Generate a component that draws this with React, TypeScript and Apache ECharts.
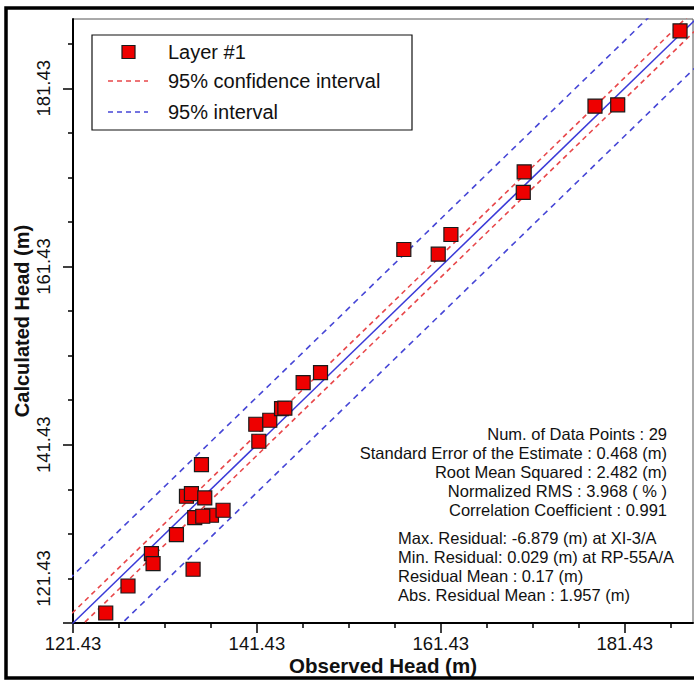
import React, { useEffect, useRef } from "react";
import * as echarts from "echarts";

// ---- data ----
const observedHead = [
  124.99, 127.41, 129.96, 130.14, 132.68, 134.49, 133.77, 134.31, 135.76, 135.40,
  134.67, 136.49, 137.75, 141.64, 141.31, 142.83, 144.11, 146.46, 148.35, 157.41,
  161.15, 162.53, 170.50, 170.40, 178.20, 180.67, 187.45, 144.47, 135.54,
];
const calculatedHead = [
  122.55, 125.58, 129.22, 128.10, 131.35, 127.46, 135.65, 135.95, 135.46, 139.21,
  133.26, 133.52, 134.08, 141.82, 143.73, 144.18, 145.49, 148.41, 149.53, 163.34,
  162.81, 165.02, 172.05, 169.74, 179.42, 179.57, 187.87, 145.53, 133.41,
];

// regression / interval lines (end points, clipped by the plot area)
const lineX = [115, 195];
const fitY = [115, 195];
const ciUpperY = [116.2, 196.2];
const ciLowerY = [113.8, 193.8];
const piUpperY = [120.35, 200.35];
const piLowerY = [109.65, 189.65];

// axes
const xMin = 121.43;
const xMax = 188.86;
const yMin = 121.43;
const yMax = 189.2;
const xMajorTicks = [121.43, 141.43, 161.43, 181.43];
const xMinorTicks = [126.43, 131.43, 136.43, 146.43, 151.43, 156.43, 166.43, 171.43, 176.43, 186.43];
const xTickLabels = ["121.43", "141.43", "161.43", "181.43"];
const yMajorTicks = [121.43, 141.43, 161.43, 181.43];
const yMinorTicks = [126.43, 131.43, 136.43, 146.43, 151.43, 156.43, 166.43, 171.43, 176.43, 186.43];
const yLabelPositions = [126.43, 141.43, 161.43, 181.43];
const yTickLabels = ["121.43", "141.43", "161.43", "181.43"];

const legendNames = ["Layer #1", "95% confidence interval", "95% interval"];

const statsRight = [
  "Num. of Data Points : 29",
  "Standard Error of the Estimate : 0.468 (m)",
  "Root Mean Squared : 2.482 (m)",
  "Normalized RMS : 3.968 ( % )",
  "Correlation Coefficient : 0.991",
];
const statsLeft = [
  "Max. Residual: -6.879 (m) at XI-3/A",
  "Min. Residual: 0.029 (m) at RP-55A/A",
  "Residual Mean : 0.17 (m)",
  "Abs. Residual Mean : 1.957 (m)",
];

const FONT = "'Liberation Sans', Arial, sans-serif";
const RED = "#ee0000";
const RED_DASH = "#e8474a";
const BLUE = "#3a3ad8";
const BLUE_DASH = "#4646d6";

function pickLabel(value: number, positions: number[], texts: string[]) {
  for (let i = 0; i < positions.length; i++) {
    if (Math.abs(value - positions[i]) < 0.01) return texts[i];
  }
  return "";
}

export default function App() {
  const ref = useRef<HTMLDivElement>(null);

  useEffect(() => {
    if (!ref.current) return;
    const chart = echarts.init(ref.current, null, { renderer: "svg" });

    const pts = observedHead.map((x, i) => [x, calculatedHead[i]]);
    const mk = (ys: number[]) => lineX.map((x, i) => [x, ys[i]]);

    const statsRightY = [434, 453, 472, 491, 510];
    const statsLeftY = [538, 557, 576, 595];

    const graphic: any[] = [
      // outer frame
      {
        type: "rect",
        shape: { x: 6, y: 8, width: 720, height: 670 },
        style: { fill: "none", stroke: "#000", lineWidth: 3.5 },
        silent: true,
        z: 100,
      },
      // legend box
      {
        type: "rect",
        shape: { x: 92, y: 35, width: 320, height: 95 },
        style: { fill: "#fff", stroke: "#111", lineWidth: 1.2 },
        z: 50,
      },
      {
        type: "rect",
        shape: { x: 122, y: 45.5, width: 13, height: 13 },
        style: { fill: RED, stroke: "#1a1a1a", lineWidth: 1.2 },
        z: 51,
      },
      {
        type: "line",
        shape: { x1: 108, y1: 81, x2: 148, y2: 81 },
        style: { stroke: RED_DASH, lineWidth: 1.5, lineDash: [5, 4] },
        z: 51,
      },
      {
        type: "line",
        shape: { x1: 108, y1: 112, x2: 148, y2: 112 },
        style: { stroke: BLUE_DASH, lineWidth: 1.5, lineDash: [5, 4] },
        z: 51,
      },
      ...legendNames.map((t, i) => ({
        type: "text",
        x: 168,
        y: [52, 81, 112][i],
        style: {
          text: t,
          font: `20px ${FONT}`,
          fill: "#111",
          textAlign: "left",
          textVerticalAlign: "middle",
        },
        z: 51,
      })),
      ...statsRight.map((t, i) => ({
        type: "text",
        x: 667,
        y: statsRightY[i],
        style: {
          text: t,
          font: `16.5px ${FONT}`,
          fill: "#111",
          textAlign: "right",
          textVerticalAlign: "middle",
        },
        z: 20,
      })),
      ...statsLeft.map((t, i) => ({
        type: "text",
        x: 398,
        y: statsLeftY[i],
        style: {
          text: t,
          font: `16.5px ${FONT}`,
          fill: "#111",
          textAlign: "left",
          textVerticalAlign: "middle",
        },
        z: 20,
      })),
    ];

    chart.setOption({
      animation: false,
      backgroundColor: "#fff",
      textStyle: { fontFamily: FONT },
      grid: {
        left: 73,
        top: 19,
        right: 1,
        bottom: 59,
        show: true,
        containLabel: false,
        outerBoundsMode: "none",
        borderColor: "#555",
        borderWidth: 1,
        backgroundColor: "transparent",
      },
      xAxis: [
        {
          type: "value",
          min: xMin,
          max: xMax,
          position: "bottom",
          axisLine: { show: true, onZero: false, lineStyle: { color: "#000", width: 2 } },
          axisTick: {
            show: true,
            inside: false,
            length: 10,
            customValues: xMajorTicks,
            lineStyle: { color: "#000", width: 1.5 },
          },
          axisLabel: {
            show: true,
            customValues: xMajorTicks,
            formatter: (v: number) => pickLabel(v, xMajorTicks, xTickLabels),
            fontSize: 18.5,
            color: "#111",
            margin: 11,
            fontFamily: FONT,
          },
          splitLine: { show: false },
          name: "Observed Head (m)",
          nameLocation: "middle",
          nameGap: 32,
          nameMoveOverlap: false,
          nameTextStyle: { fontWeight: "bold", fontSize: 20.5, color: "#111", fontFamily: FONT },
        },
        {
          type: "value",
          min: xMin,
          max: xMax,
          position: "bottom",
          axisLine: { show: false, onZero: false },
          axisTick: {
            show: true,
            inside: false,
            length: 5,
            customValues: xMinorTicks,
            lineStyle: { color: "#000", width: 1.5 },
          },
          axisLabel: { show: false },
          splitLine: { show: false },
        },
      ],
      yAxis: [
        {
          type: "value",
          min: yMin,
          max: yMax,
          position: "left",
          axisLine: { show: true, onZero: false, lineStyle: { color: "#000", width: 2 } },
          axisTick: {
            show: true,
            inside: false,
            length: 10,
            customValues: yMajorTicks,
            lineStyle: { color: "#000", width: 1.5 },
          },
          axisLabel: {
            show: true,
            customValues: yLabelPositions,
            formatter: (v: number) => pickLabel(v, yLabelPositions, yTickLabels),
            rotate: 90,
            fontSize: 18.5,
            color: "#111",
            margin: 20,
            fontFamily: FONT,
          },
          splitLine: { show: false },
          name: "Calculated Head (m)",
          nameLocation: "middle",
          nameGap: 41,
          nameMoveOverlap: false,
          nameTextStyle: { fontWeight: "bold", fontSize: 20, color: "#111", fontFamily: FONT },
        },
        {
          type: "value",
          min: yMin,
          max: yMax,
          position: "left",
          axisLine: { show: false, onZero: false },
          axisTick: {
            show: true,
            inside: false,
            length: 5,
            customValues: yMinorTicks,
            lineStyle: { color: "#000", width: 1.5 },
          },
          axisLabel: { show: false },
          splitLine: { show: false },
        },
      ],
      series: [
        {
          name: "95% interval upper",
          type: "line",
          data: mk(piUpperY),
          symbol: "none",
          clip: true,
          lineStyle: { color: BLUE_DASH, width: 1.6, type: [6, 5] },
          z: 2,
        },
        {
          name: "95% interval lower",
          type: "line",
          data: mk(piLowerY),
          symbol: "none",
          clip: true,
          lineStyle: { color: BLUE_DASH, width: 1.6, type: [6, 5] },
          z: 2,
        },
        {
          name: "95% confidence upper",
          type: "line",
          data: mk(ciUpperY),
          symbol: "none",
          clip: true,
          lineStyle: { color: RED_DASH, width: 1.6, type: [5, 4] },
          z: 2,
        },
        {
          name: "95% confidence lower",
          type: "line",
          data: mk(ciLowerY),
          symbol: "none",
          clip: true,
          lineStyle: { color: RED_DASH, width: 1.6, type: [5, 4] },
          z: 2,
        },
        {
          name: "fit",
          type: "line",
          data: mk(fitY),
          symbol: "none",
          clip: true,
          lineStyle: { color: BLUE, width: 1.5 },
          z: 3,
        },
        {
          name: "Layer #1",
          type: "scatter",
          data: pts,
          symbol: "rect",
          symbolSize: 14,
          itemStyle: { color: RED, borderColor: "#1a1a1a", borderWidth: 1.2, opacity: 1 },
          z: 5,
        },
      ],
      graphic,
    });

    return () => chart.dispose();
  }, []);

  return (
    <div
      ref={ref}
      style={{ position: "fixed", left: 0, top: 0, width: 694, height: 682, background: "#fff" }}
    />
  );
}
